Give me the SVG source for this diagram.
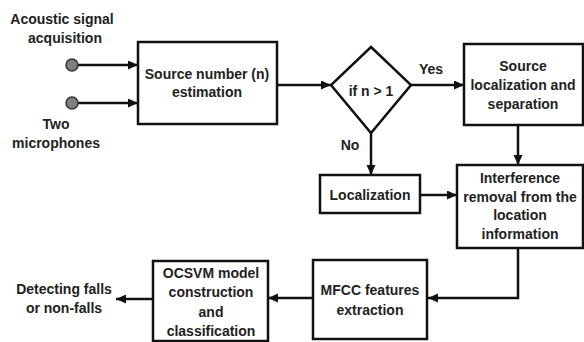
<svg xmlns="http://www.w3.org/2000/svg" width="584" height="342" viewBox="0 0 584 342">
  <defs>
    <marker id="ah" markerUnits="userSpaceOnUse" markerWidth="11" markerHeight="10" refX="10" refY="4.5" orient="auto">
      <path d="M0,0 L10,4.5 L0,9 z" fill="#111"/>
    </marker>
    <style>
      .box{fill:#fff;stroke:#111;stroke-width:2.5}
      .ln{fill:none;stroke:#111;stroke-width:2.5}
      .ar{fill:none;stroke:#111;stroke-width:2.5;marker-end:url(#ah)}
      text{font-family:"Liberation Sans",Arial,sans-serif;font-size:14px;font-weight:bold;fill:#222;text-anchor:middle}
      .mic{fill:#7f7f7f;stroke:#333;stroke-width:1.5}
    </style>
  </defs>
  <rect width="584" height="342" fill="#fff"/>

  <g id="connectors">
    <line class="ar" x1="78" y1="65" x2="138" y2="65"/>
    <line class="ar" x1="78" y1="103" x2="138" y2="103"/>
    <line class="ar" x1="277" y1="85" x2="331" y2="85"/>
    <line class="ar" x1="411" y1="85" x2="464" y2="85"/>
    <line class="ar" x1="518" y1="125" x2="518" y2="165"/>
    <line class="ar" x1="371" y1="133" x2="371" y2="175"/>
    <line class="ar" x1="420" y1="195" x2="457" y2="195"/>
    <polyline class="ar" points="518,248 518,298 428,298"/>
    <line class="ar" x1="313" y1="298" x2="268" y2="298"/>
    <line class="ar" x1="153" y1="299" x2="116" y2="299"/>
  </g>

  <g id="acquisition">
    <text x="62" y="23.5">Acoustic signal</text>
    <text x="65" y="42.5">acquisition</text>
  </g>
  <g id="mics">
    <circle class="mic" cx="72" cy="65" r="6"/>
    <circle class="mic" cx="72" cy="103" r="6"/>
    <text x="56" y="129">Two</text>
    <text x="56" y="148">microphones</text>
  </g>

  <g id="source-number">
    <rect class="box" x="138" y="42" width="139" height="82"/>
    <text x="207" y="79">Source number (n)</text>
    <text x="207" y="97">estimation</text>
  </g>

  <g id="decision">
    <polygon class="box" points="371,47 411,85 371,133 331,85"/>
    <text x="371" y="96">if n &gt; 1</text>
    <text x="431" y="74">Yes</text>
    <text x="350" y="150">No</text>
  </g>

  <g id="source-localization">
    <rect class="box" x="464" y="44" width="119" height="81"/>
    <text x="523" y="71">Source</text>
    <text x="523" y="90">localization and</text>
    <text x="523" y="109">separation</text>
  </g>

  <g id="localization">
    <rect class="box" x="320" y="175" width="100" height="38"/>
    <text x="370" y="200">Localization</text>
  </g>

  <g id="interference">
    <rect class="box" x="457" y="165" width="126" height="83"/>
    <text x="520" y="183">Interference</text>
    <text x="520" y="201.7">removal from the</text>
    <text x="520" y="220.4">location</text>
    <text x="520" y="239">information</text>
  </g>

  <g id="mfcc">
    <rect class="box" x="313" y="260" width="114" height="79"/>
    <text x="370" y="295">MFCC features</text>
    <text x="370" y="315">extraction</text>
  </g>

  <g id="ocsvm">
    <rect class="box" x="153" y="261" width="115" height="80"/>
    <text x="211" y="278">OCSVM model</text>
    <text x="211" y="297">construction</text>
    <text x="211" y="317">and</text>
    <text x="211" y="336">classification</text>
  </g>

  <g id="output">
    <text x="64" y="294">Detecting falls</text>
    <text x="64" y="313">or non-falls</text>
  </g>
</svg>
